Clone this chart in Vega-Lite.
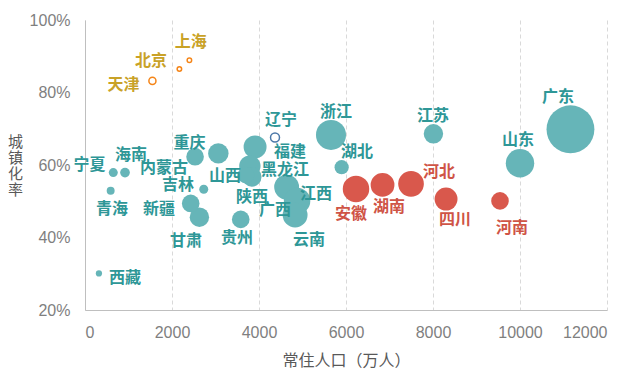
{
  "$schema": "https://vega.github.io/schema/vega-lite/v6.json",
  "width": 522,
  "height": 290,
  "autosize": {"type": "none"},
  "padding": {"left": 85, "top": 20, "right": 37, "bottom": 64},
  "background": "white",
  "config": {
    "view": {"stroke": null},
    "font": "Noto Sans CJK SC"
  },
  "data": {
    "values": [
      {"省份": "广东", "人口": 11160, "城镇化率": 0.6985, "增量": 170, "类别": "一般", "标注人口": 10874, "标注率": 0.788},
      {"省份": "山东", "人口": 10000, "城镇化率": 0.605, "增量": 60, "类别": "一般", "标注人口": 9954, "标注率": 0.669},
      {"省份": "浙江", "人口": 5655, "城镇化率": 0.683, "增量": 67, "类别": "一般", "标注人口": 5770, "标注率": 0.746},
      {"省份": "江苏", "人口": 8010, "城镇化率": 0.686, "增量": 28, "类别": "一般", "标注人口": 8000, "标注率": 0.735},
      {"省份": "湖北", "人口": 5900, "城镇化率": 0.594, "增量": 15, "类别": "一般", "标注人口": 6253, "标注率": 0.636},
      {"省份": "江西", "人口": 4635, "城镇化率": 0.539, "增量": 46, "类别": "一般", "标注人口": 5310, "标注率": 0.519},
      {"省份": "广西", "人口": 4875, "城镇化率": 0.501, "增量": 52, "类别": "一般", "标注人口": 4368, "标注率": 0.476},
      {"省份": "云南", "人口": 4830, "城镇化率": 0.462, "增量": 46, "类别": "一般", "标注人口": 5149, "标注率": 0.393},
      {"省份": "福建", "人口": 3910, "城镇化率": 0.65, "增量": 39, "类别": "一般", "标注人口": 4713, "标注率": 0.636},
      {"省份": "黑龙江", "人口": 3790, "城镇化率": 0.597, "增量": 34, "类别": "一般", "标注人口": 4598, "标注率": 0.585},
      {"省份": "陕西", "人口": 3835, "城镇化率": 0.567, "增量": 28, "类别": "一般", "标注人口": 3839, "标注率": 0.512},
      {"省份": "山西", "人口": 3700, "城镇化率": 0.572, "增量": 21, "类别": "一般", "标注人口": 3218, "标注率": 0.57},
      {"省份": "贵州", "人口": 3580, "城镇化率": 0.45, "增量": 23, "类别": "一般", "标注人口": 3494, "标注率": 0.399},
      {"省份": "重庆", "人口": 3065, "城镇化率": 0.632, "增量": 31, "类别": "一般", "标注人口": 2402, "标注率": 0.661},
      {"省份": "吉林", "人口": 2730, "城镇化率": 0.533, "增量": 6, "类别": "一般", "标注人口": 2138, "标注率": 0.545},
      {"省份": "甘肃", "人口": 2630, "城镇化率": 0.456, "增量": 28, "类别": "一般", "标注人口": 2322, "标注率": 0.39},
      {"省份": "内蒙古", "人口": 2530, "城镇化率": 0.623, "增量": 23, "类别": "一般", "标注人口": 1816, "标注率": 0.592},
      {"省份": "新疆", "人口": 2430, "城镇化率": 0.494, "增量": 23, "类别": "一般", "标注人口": 1701, "标注率": 0.479},
      {"省份": "海南", "人口": 920, "城镇化率": 0.579, "增量": 7, "类别": "一般", "标注人口": 1058, "标注率": 0.628},
      {"省份": "宁夏", "人口": 650, "城镇化率": 0.579, "增量": 6, "类别": "一般", "标注人口": 103, "标注率": 0.601},
      {"省份": "青海", "人口": 590, "城镇化率": 0.529, "增量": 4.7, "类别": "一般", "标注人口": 621, "标注率": 0.479},
      {"省份": "西藏", "人口": 320, "城镇化率": 0.301, "增量": 2.9, "类别": "一般", "标注人口": 920, "标注率": 0.288},
      {"省份": "河南", "人口": 9540, "城镇化率": 0.501, "增量": 23, "类别": "人口输出", "标注人口": 9816, "标注率": 0.426},
      {"省份": "四川", "人口": 8300, "城镇化率": 0.506, "增量": 39, "类别": "人口输出", "标注人口": 8506, "标注率": 0.448},
      {"省份": "河北", "人口": 7495, "城镇化率": 0.548, "增量": 49, "类别": "人口输出", "标注人口": 8138, "标注率": 0.581},
      {"省份": "湖南", "人口": 6840, "城镇化率": 0.545, "增量": 42, "类别": "人口输出", "标注人口": 6989, "标注率": 0.484},
      {"省份": "安徽", "人口": 6230, "城镇化率": 0.534, "增量": 52, "类别": "人口输出", "标注人口": 6115, "标注率": 0.465},
      {"省份": "辽宁", "人口": 4368, "城镇化率": 0.676, "增量": 6, "类别": "人口减少", "标注人口": 4506, "标注率": 0.723},
      {"省份": "上海", "人口": 2400, "城镇化率": 0.889, "增量": 1.5, "类别": "直辖市", "标注人口": 2430, "标注率": 0.94},
      {"省份": "北京", "人口": 2170, "城镇化率": 0.865, "增量": 1.5, "类别": "直辖市", "标注人口": 1517, "标注率": 0.888},
      {"省份": "天津", "人口": 1550, "城镇化率": 0.832, "增量": 3.7, "类别": "直辖市", "标注人口": 885, "标注率": 0.821}
    ]
  },
  "layer": [
    {
      "transform": [{"filter": "datum['类别'] == '一般' || datum['类别'] == '人口输出'"}],
      "mark": {"type": "circle", "opacity": 1},
      "encoding": {
        "x": {
          "field": "人口", "type": "quantitative",
          "scale": {"domain": [0, 12000], "nice": false},
          "axis": {
            "title": "常住人口（万人）",
            "values": [0, 2000, 4000, 6000, 8000, 10000, 12000],
            "format": "d",
            "grid": true, "gridDash": [4, 3], "gridColor": "#d9d9d9", "gridWidth": 1,
            "ticks": false, "domainColor": "#bfbfbf", "domainWidth": 1,
            "labelFont": "Liberation Sans", "labelFontSize": 16, "labelColor": "#7f7f7f", "labelPadding": 14,
            "titleFont": "Noto Sans CJK SC", "titleFontSize": 16, "titleFontWeight": "normal", "titleColor": "#595959", "titlePadding": 12
          }
        },
        "y": {
          "field": "城镇化率", "type": "quantitative",
          "scale": {"domain": [0.2, 1.0], "nice": false},
          "axis": {
            "title": ["城", "镇", "化", "率"],
            "values": [0.2, 0.4, 0.6, 0.8, 1.0],
            "format": ".0%",
            "grid": false, "ticks": false, "domainColor": "#bfbfbf", "domainWidth": 1,
            "labelFont": "Liberation Sans", "labelFontSize": 16, "labelColor": "#7f7f7f", "labelPadding": 15,
            "titleFont": "Noto Sans CJK SC", "titleFontSize": 15, "titleFontWeight": "normal", "titleColor": "#595959",
            "titleAngle": 0, "titleAlign": "center", "titleBaseline": "middle", "titleX": -70, "titleY": 121, "titleLineHeight": 16
          }
        },
        "size": {"field": "增量", "type": "quantitative", "scale": {"type": "linear", "domain": [0, 170], "range": [0, 2290], "zero": true}, "legend": null},
        "color": {"field": "类别", "type": "nominal", "scale": {"domain": ["一般", "人口输出", "直辖市", "人口减少"], "range": ["#66b5b8", "#d9584c", "#cfb04c", "#8fc4c4"]}, "legend": null}
      }
    },
    {
      "transform": [{"filter": "datum['类别'] == '直辖市' || datum['类别'] == '人口减少'"}],
      "mark": {"type": "point", "shape": "circle", "filled": false, "strokeWidth": 1.5, "opacity": 1},
      "encoding": {
        "x": {"field": "人口", "type": "quantitative"},
        "y": {"field": "城镇化率", "type": "quantitative"},
        "size": {"field": "增量", "type": "quantitative", "legend": null},
        "color": {"field": "类别", "type": "nominal", "legend": null}
      }
    },
    {
      "mark": {"type": "text", "font": "Noto Sans CJK SC", "fontSize": 16, "fontWeight": "bold", "align": "center", "baseline": "middle"},
      "encoding": {
        "x": {"field": "标注人口", "type": "quantitative"},
        "y": {"field": "标注率", "type": "quantitative"},
        "text": {"field": "省份"},
        "color": {"field": "类别", "type": "nominal", "scale": {"domain": ["一般", "人口输出", "直辖市", "人口减少"], "range": ["#2e9797", "#cf5446", "#c9a227", "#2e9797"]}, "legend": null}
      }
    }
  ],
  "resolve": {"scale": {"color": "independent"}}
}
